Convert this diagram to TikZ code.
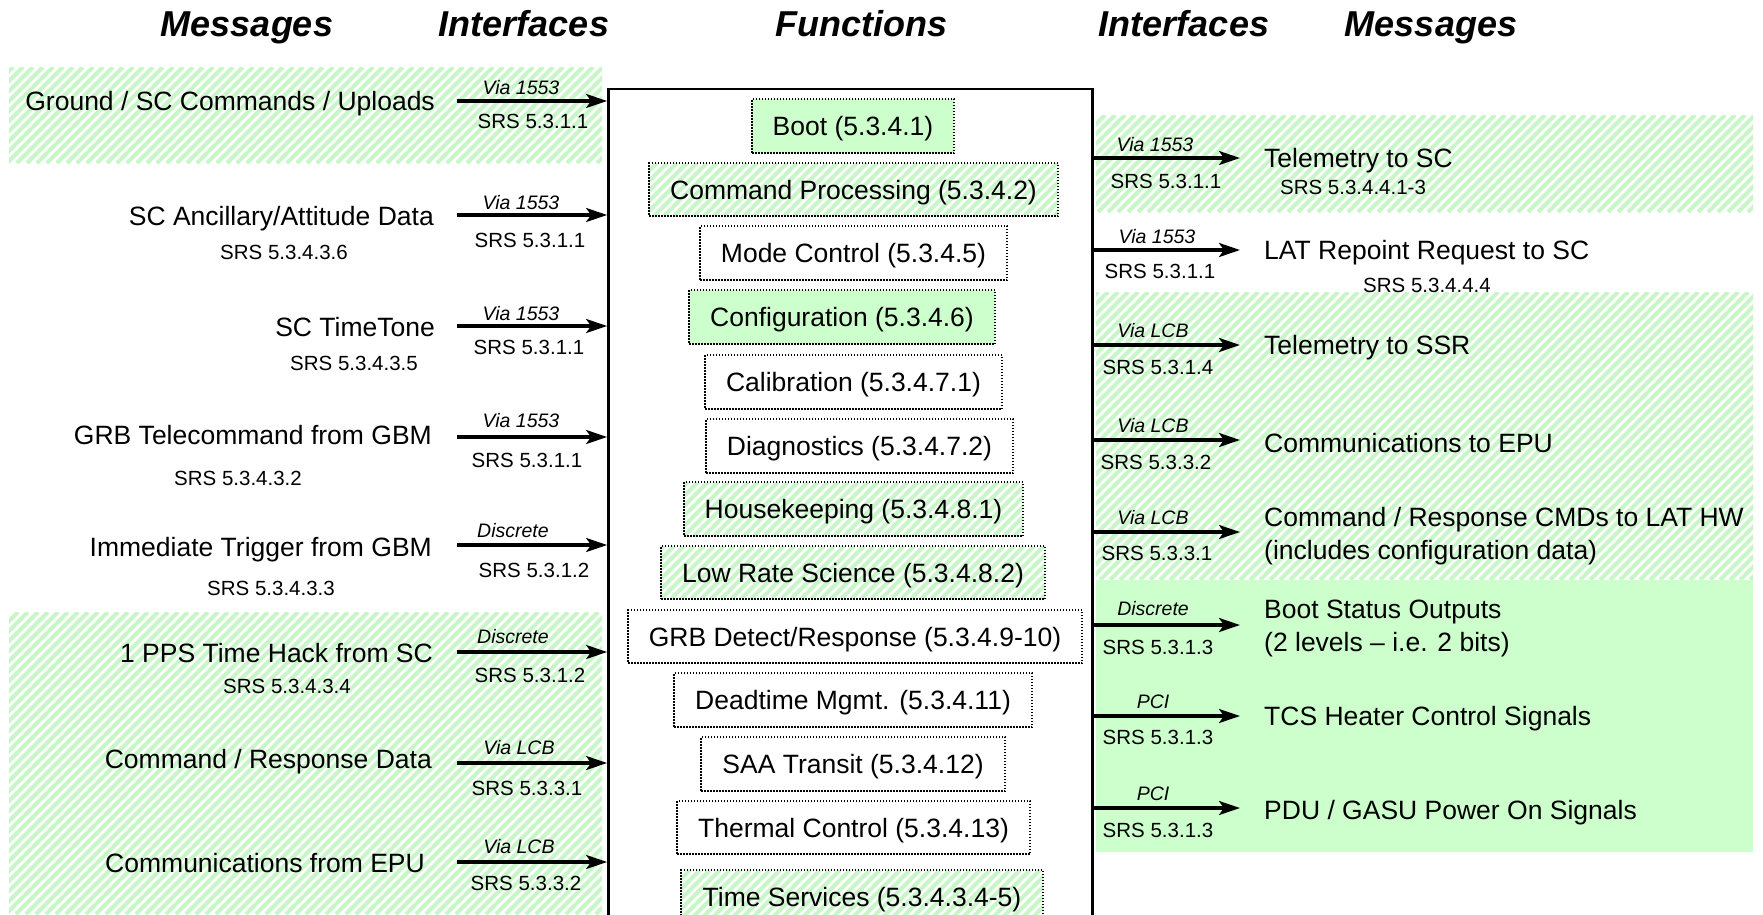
\documentclass[tikz,border=0pt]{standalone}
\usepackage{fontspec}
\setmainfont{Liberation Sans}
\usetikzlibrary{arrows.meta}
\definecolor{lgreen}{RGB}{204,255,204}
\definecolor{hgreen}{RGB}{200,246,200}
\newcommand\hatchrect[4]{%
  \begin{scope}
    \clip (#1,#2) rectangle (#3,#4);
    \fill[white] (#1,#2) rectangle (#3,#4);
    \pgfmathtruncatemacro\kmin{(#1+#2)/10-1}
    \pgfmathtruncatemacro\kmax{(#3+#4)/10+1}
    \foreach \k in {\kmin,...,\kmax}{
      \draw[hgreen, line width=4pt] ({\k*10-#4},#4) -- ({\k*10-#2},#2);
    }
  \end{scope}}
\tikzset{
  msg/.style={font=\fontsize{26.5}{33}\selectfont, inner sep=0pt, text height=19pt, text depth=0pt},
  srs/.style={font=\fontsize{20.5}{24}\selectfont, inner sep=0pt, text height=14.7pt, text depth=0pt},
  via/.style={font=\fontsize{19.5}{23}\selectfont\itshape, inner sep=0pt, text height=14pt, text depth=0pt},
  hdr/.style={font=\fontsize{36}{40}\selectfont\bfseries\itshape, inner sep=0pt, text height=25.8pt, text depth=0pt},
  fnbox/.style={draw, line width=1.5pt, dash pattern=on 1.5pt off 1.5pt, inner sep=0pt,
    font=\fontsize{26.5}{30}\selectfont, text height=19pt, text depth=0pt},
  solidbox/.style={fnbox, fill=lgreen},
  arr/.style={line width=3.1pt, -{Stealth[length=21pt,width=14pt,inset=5pt]}},
}
\begin{document}
\begin{tikzpicture}[x=1pt, y=-1pt]
\useasboundingbox (0,0) rectangle (1763,914);
\clip (0,0) rectangle (1763,914);
\fill[white] (0,0) rectangle (1763,914);

% background bands
\hatchrect{9}{67}{602}{163}
\hatchrect{9}{612}{602}{914}
\hatchrect{1096}{115}{1753}{212}
\hatchrect{1096}{292}{1753}{580}
\fill[lgreen] (1096,580) rectangle (1753,852);

% headers
\node[hdr] (h1) at (247,24) {Messages};
\node[hdr] (h2) at (524,24) {Interfaces};
\node[hdr] (h3) at (861,24) {Functions};
\node[hdr] (h4) at (1184,24) {Interfaces};
\node[hdr] (h5) at (1431,24) {Messages};

% main function box
\node[draw, line width=2.8pt, minimum width=484pt, minimum height=851pt, inner sep=0pt] (fn) at (850.5,514.5) {};

% function boxes
\node[solidbox, minimum width=202pt, minimum height=54pt] (f1) at (853,126) {Boot (5.3.4.1)};
\hatchrect{649}{163}{1058}{216}
\node[fnbox, minimum width=409pt, minimum height=53pt] (f2) at (853.5,189.5) {Command Processing (5.3.4.2)};
\node[fnbox, minimum width=307pt, minimum height=54pt] (f3) at (853.5,253) {Mode Control (5.3.4.5)};
\node[solidbox, minimum width=306pt, minimum height=54pt] (f4) at (842,317) {Configuration (5.3.4.6)};
\node[fnbox, minimum width=297pt, minimum height=54pt] (f5) at (853.5,382) {Calibration (5.3.4.7.1)};
\node[fnbox, minimum width=307pt, minimum height=54pt] (f6) at (859.5,446) {Diagnostics (5.3.4.7.2)};
\hatchrect{684}{482}{1023}{536}
\node[fnbox, minimum width=339pt, minimum height=54pt] (f7) at (853.5,509) {Housekeeping (5.3.4.8.1)};
\hatchrect{661}{546}{1045}{599}
\node[fnbox, minimum width=384pt, minimum height=53pt] (f8) at (853,572.5) {Low Rate Science (5.3.4.8.2)};
\node[fnbox, minimum width=454pt, minimum height=53pt] (f9) at (855,636.5) {GRB Detect/Response (5.3.4.9-10)};
\node[fnbox, minimum width=358pt, minimum height=54pt] (f10) at (853,700) {Deadtime Mgmt. (5.3.4.11)};
\node[fnbox, minimum width=304pt, minimum height=54pt] (f11) at (853,764) {SAA Transit (5.3.4.12)};
\node[fnbox, minimum width=353pt, minimum height=53pt] (f12) at (853.5,827.5) {Thermal Control (5.3.4.13)};
\hatchrect{681}{870}{1043}{924}
\node[fnbox, minimum width=362pt, minimum height=54pt] (f13) at (862,897) {Time Services (5.3.4.3.4-5)};

% left side
\coordinate (l1) at (457,101);
\coordinate (l2) at (457,215);
\coordinate (l3) at (457,326);
\coordinate (l4) at (457,437);
\coordinate (l5) at (457,545);
\coordinate (l6) at (457,652);
\coordinate (l7) at (457,763);
\coordinate (l8) at (457,862);
\foreach \c in {l1,l2,l3,l4,l5,l6,l7,l8}{ \draw[arr] (\c) -- (\c -| fn.west); }

\node[msg, anchor=east] (m1) at (435,101) {Ground / SC Commands / Uploads};
\node[via] (v1) at (521,87) {Via 1553};
\node[srs] (s1) at (533,121) {SRS 5.3.1.1};

\node[msg, anchor=east] (m2) at (434,216) {SC Ancillary/Attitude Data};
\node[srs] (q2) at (284,252) {SRS 5.3.4.3.6};
\node[via] (v2) at (521,202) {Via 1553};
\node[srs] (s2) at (530,240) {SRS 5.3.1.1};

\node[msg, anchor=east] (m3) at (435,327) {SC TimeTone};
\node[srs] (q3) at (354,363) {SRS 5.3.4.3.5};
\node[via] (v3) at (521,313) {Via 1553};
\node[srs] (s3) at (529,347) {SRS 5.3.1.1};

\node[msg, anchor=east] (m4) at (432,435) {GRB Telecommand from GBM};
\node[srs] (q4) at (238,478) {SRS 5.3.4.3.2};
\node[via] (v4) at (521,420) {Via 1553};
\node[srs] (s4) at (527,460) {SRS 5.3.1.1};

\node[msg, anchor=east] (m5) at (432,547) {Immediate Trigger from GBM};
\node[srs] (q5) at (271,588) {SRS 5.3.4.3.3};
\node[via] (v5) at (513,530) {Discrete};
\node[srs] (s5) at (534,570) {SRS 5.3.1.2};

\node[msg, anchor=east] (m6) at (433,653) {1 PPS Time Hack from SC};
\node[srs] (q6) at (287,686) {SRS 5.3.4.3.4};
\node[via] (v6) at (513,636) {Discrete};
\node[srs] (s6) at (530,675) {SRS 5.3.1.2};

\node[msg, anchor=east] (m7) at (432,759) {Command / Response Data};
\node[via] (v7) at (519,747) {Via LCB};
\node[srs] (s7) at (527,788) {SRS 5.3.3.1};

\node[msg, anchor=east] (m8) at (425,863) {Communications from EPU};
\node[via] (v8) at (519,846) {Via LCB};
\node[srs] (s8) at (526,883) {SRS 5.3.3.2};

% right side
\coordinate (r1) at (1240,158);
\coordinate (r2) at (1240,250);
\coordinate (r3) at (1240,345);
\coordinate (r4) at (1240,440);
\coordinate (r5) at (1240,532);
\coordinate (r6) at (1240,625);
\coordinate (r7) at (1240,716);
\coordinate (r8) at (1240,808);
\foreach \c in {r1,r2,r3,r4,r5,r6,r7,r8}{ \draw[arr] (\c -| fn.east) -- (\c); }

\node[via] (w1) at (1155,144) {Via 1553};
\node[srs] (t1) at (1166,181) {SRS 5.3.1.1};
\node[msg, anchor=west] (n1) at (1264,158) {Telemetry to SC};
\node[srs] (p1) at (1353,187) {SRS 5.3.4.4.1-3};

\node[via] (w2) at (1157,236) {Via 1553};
\node[srs] (t2) at (1160,271) {SRS 5.3.1.1};
\node[msg, anchor=west] (n2) at (1264,250) {LAT Repoint Request to SC};
\node[srs] (p2) at (1427,285) {SRS 5.3.4.4.4};

\node[via] (w3) at (1153,330) {Via LCB};
\node[srs] (t3) at (1158,367) {SRS 5.3.1.4};
\node[msg, anchor=west] (n3) at (1264,345) {Telemetry to SSR};

\node[via] (w4) at (1153,425) {Via LCB};
\node[srs] (t4) at (1156,462) {SRS 5.3.3.2};
\node[msg, anchor=west] (n4) at (1264,443) {Communications to EPU};

\node[via] (w5) at (1153,517) {Via LCB};
\node[srs] (t5) at (1157,553) {SRS 5.3.3.1};
\node[msg, anchor=west] (n5) at (1264,517) {Command / Response CMDs to LAT HW};
\node[msg, anchor=west] (n5b) at (1264,550) {(includes configuration data)};

\node[via] (w6) at (1153,608) {Discrete};
\node[srs] (t6) at (1158,647) {SRS 5.3.1.3};
\node[msg, anchor=west] (n6) at (1264,609) {Boot Status Outputs};
\node[msg, anchor=west] (n6b) at (1264,642) {(2 levels – i.e. 2 bits)};

\node[via] (w7) at (1153,701) {PCI};
\node[srs] (t7) at (1158,737) {SRS 5.3.1.3};
\node[msg, anchor=west] (n7) at (1264,716) {TCS Heater Control Signals};

\node[via] (w8) at (1153,793) {PCI};
\node[srs] (t8) at (1158,830) {SRS 5.3.1.3};
\node[msg, anchor=west] (n8) at (1264,810) {PDU / GASU Power On Signals};
\end{tikzpicture}
\end{document}
